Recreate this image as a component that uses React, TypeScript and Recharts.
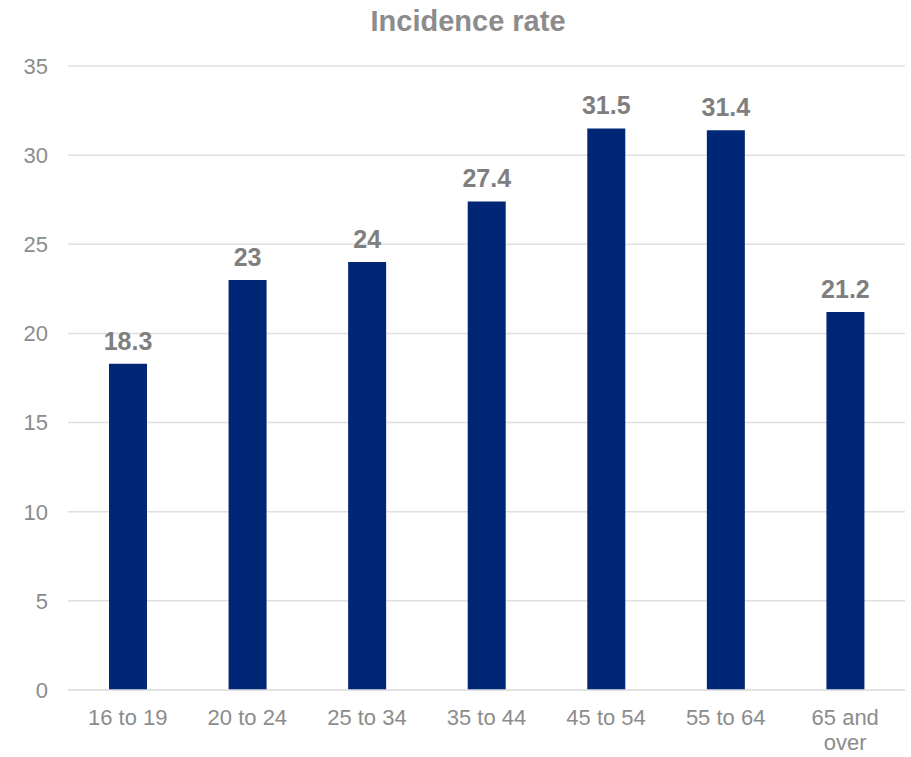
import React from "react";
import { BarChart, Bar, XAxis, YAxis, CartesianGrid, LabelList } from "recharts";

const ageGroups = ["16 to 19", "20 to 24", "25 to 34", "35 to 44", "45 to 54", "55 to 64", "65 and over"];
const incidence = [18.3, 23, 24, 27.4, 31.5, 31.4, 21.2];
const yTicks = [0, 5, 10, 15, 20, 25, 30, 35];

const data = ageGroups.map((g, i) => ({ group: g, rate: incidence[i] }));

const FONT = "'Liberation Sans', Arial, sans-serif";

// the last category breaks onto two lines like in the original
const AgeTick = (props: any) => {
  const { x, y, payload } = props;
  const label: string = payload.value;
  const lines = label === "65 and over" ? ["65 and", "over"] : [label];
  return (
    <text x={x} y={y} textAnchor="middle" fill="#8c8c8c" fontSize={22} fontFamily={FONT}>
      {lines.map((l, i) => (
        <tspan key={i} x={x} dy={i === 0 ? 27 : 25}>
          {l}
        </tspan>
      ))}
    </text>
  );
};

const App = () => {
  return (
    <div style={{ position: "absolute", left: 0, top: 0, width: 911, height: 757, background: "#fff" }}>
      <div
        style={{
          position: "absolute",
          left: 0,
          top: 5,
          width: 936,
          textAlign: "center",
          fontFamily: FONT,
          fontWeight: "bold",
          fontSize: 29,
          color: "#8c8c8c",
        }}
      >
        Incidence rate
      </div>
      <BarChart
        width={911}
        height={757}
        data={data}
        margin={{ top: 66, right: 6, bottom: 0, left: 0 }}
      >
        <CartesianGrid vertical={false} stroke="#e0e0e0" strokeWidth={1.5} />
        <XAxis
          dataKey="group"
          height={67}
          axisLine={{ stroke: "#e0e0e0", strokeWidth: 1.5 }}
          tickLine={false}
          tick={<AgeTick />}
          interval={0}
        />
        <YAxis
          width={68}
          domain={[0, 35]}
          ticks={yTicks}
          axisLine={false}
          tickLine={false}
          tickMargin={14}
          tick={{ fill: "#8c8c8c", fontSize: 22, fontFamily: FONT }}
        />
        <Bar dataKey="rate" fill="#002776" barSize={38} isAnimationActive={false}>
          <LabelList
            dataKey="rate"
            position="top"
            offset={14}
            fill="#7f7f7f"
            fontSize={25}
            fontWeight="bold"
            fontFamily={FONT}
          />
        </Bar>
      </BarChart>
    </div>
  );
};

export default App;
